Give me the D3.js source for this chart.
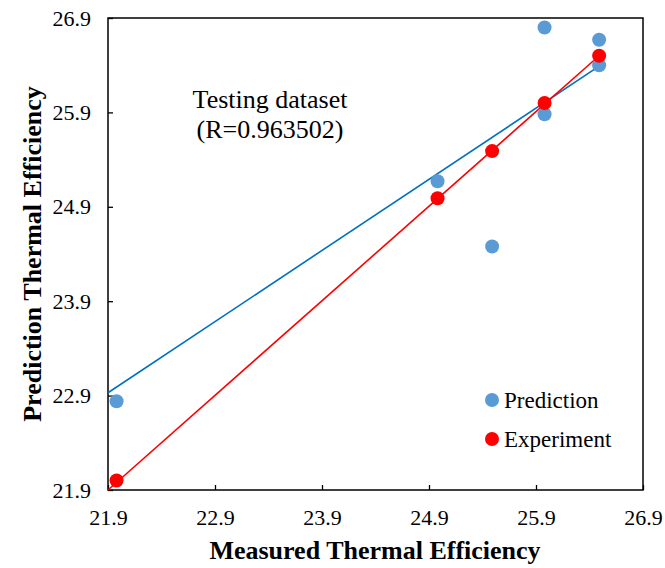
<!DOCTYPE html>
<html>
<head>
<meta charset="utf-8">
<script src="https://cdn.jsdelivr.net/npm/d3@7"></script>
<style>
  body { margin: 0; background: #fff; }
  svg text { font-family: "Liberation Serif", "Times New Roman", serif; }
</style>
</head>
<body>
<div id="chart"></div>
<script>
// 数据
const measured = [21.98, 24.98, 25.49, 25.98, 25.98, 26.49, 26.49]
const prediction = [22.84, 25.17, 24.48, 26.80, 25.88, 26.67, 26.40]
const expX = [21.98, 24.98, 25.49, 25.98, 26.49]
const experiment = [22.0, 24.99, 25.49, 26.0, 26.5]
const predFit = [[21.9, 22.93], [26.49, 26.39]]
const expFit = [[21.9, 21.9], [26.49, 26.5]]
const ticks = [21.9, 22.9, 23.9, 24.9, 25.9, 26.9]

const width = 665, height = 568
const margin = {top: 18, right: 22, bottom: 78, left: 108}

const svg = d3.select("#chart").append("svg")
  .attr("width", width).attr("height", height)

const x = d3.scaleLinear().domain([21.9, 26.9]).range([margin.left, width - margin.right])
const y = d3.scaleLinear().domain([21.9, 26.9]).range([height - margin.bottom, margin.top])

// 坐标轴
const xAxis = svg.append("g")
  .attr("transform", `translate(0,${height - margin.bottom})`)
  .call(d3.axisBottom(x).tickValues(ticks).tickFormat(d3.format(".1f")).tickSizeInner(-5).tickSizeOuter(0).tickPadding(19))
xAxis.selectAll("text").attr("font-size", 22).attr("fill", "#000")

const yAxis = svg.append("g")
  .attr("transform", `translate(${margin.left},0)`)
  .call(d3.axisLeft(y).tickValues(ticks).tickFormat(d3.format(".1f")).tickSizeInner(-5).tickSizeOuter(0).tickPadding(17))
yAxis.selectAll("text").attr("font-size", 22).attr("fill", "#000")

svg.selectAll(".domain").remove()
svg.selectAll(".tick line").attr("stroke", "#000").attr("stroke-width", 1.3)

// 边框
svg.append("rect")
  .attr("x", margin.left).attr("y", margin.top)
  .attr("width", width - margin.left - margin.right)
  .attr("height", height - margin.top - margin.bottom)
  .attr("fill", "none").attr("stroke", "#000").attr("stroke-width", 1.5)

// 趋势线
const line = d3.line().x(d => x(d[0])).y(d => y(d[1]))
svg.append("path").attr("d", line(predFit))
  .attr("fill", "none").attr("stroke", "#0070c0").attr("stroke-width", 1.6)
svg.append("path").attr("d", line(expFit))
  .attr("fill", "none").attr("stroke", "#ff0000").attr("stroke-width", 1.6)

// 散点
svg.append("g").selectAll("circle")
  .data(measured.map((m, i) => [m, prediction[i]]))
  .enter().append("circle")
  .attr("cx", d => x(d[0])).attr("cy", d => y(d[1])).attr("r", 7)
  .attr("fill", "#5b9bd5")
svg.append("g").selectAll("circle")
  .data(expX.map((m, i) => [m, experiment[i]]))
  .enter().append("circle")
  .attr("cx", d => x(d[0])).attr("cy", d => y(d[1])).attr("r", 7)
  .attr("fill", "#ff0000")

// 标注文字
svg.append("text").attr("x", 270).attr("y", 108).attr("text-anchor", "middle")
  .attr("font-size", 26).text("Testing dataset")
svg.append("text").attr("x", 270).attr("y", 138).attr("text-anchor", "middle")
  .attr("font-size", 26).text("(R=0.963502)")

// 图例
const legend = [["Prediction", "#5b9bd5"], ["Experiment", "#ff0000"]]
const lg = svg.append("g").selectAll("g").data(legend).enter().append("g")
  .attr("transform", (d, i) => `translate(492,${400 + i * 39})`)
lg.append("circle").attr("r", 7).attr("fill", d => d[1])
lg.append("text").attr("x", 12).attr("y", 8).attr("font-size", 23).text(d => d[0])

// 轴标题
svg.append("text").attr("x", 375).attr("y", 559).attr("text-anchor", "middle")
  .attr("font-size", 26).attr("font-weight", "bold").text("Measured Thermal Efficiency")
svg.append("text").attr("transform", "translate(41,254) rotate(-90)").attr("text-anchor", "middle")
  .attr("font-size", 26).attr("font-weight", "bold").text("Prediction Thermal Efficiency")
</script>
</body>
</html>
